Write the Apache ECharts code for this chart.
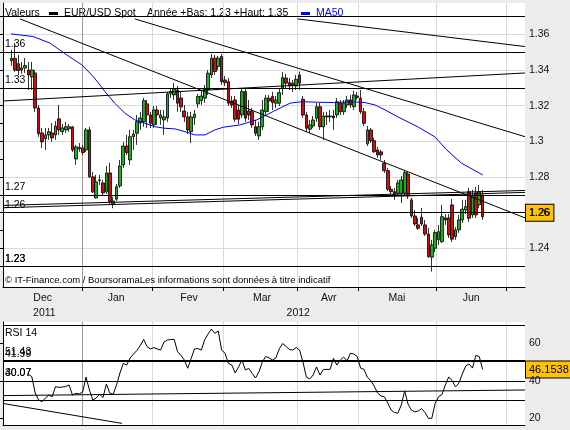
<!DOCTYPE html>
<html>
<head>
<meta charset="utf-8">
<title>EUR/USD Spot</title>
<script src="https://cdn.jsdelivr.net/npm/echarts@6/dist/echarts.min.js"></script>
<style>
  html, body { margin: 0; padding: 0; background: #ececec; }
  #chart { width: 570px; height: 430px; }
</style>
</head>
<body>
<div id="chart"></div>
<script>
// emplacements de l'axe X : jours de bourse + marge vide à droite
const slotCount = 154
const firstSlot = 2

// bougies [ouverture, clôture, bas, haut]
const ohlc = [
  [1.3451, 1.3465, 1.3423, 1.3512], [1.3465, 1.3400, 1.3389, 1.3551], [1.3434, 1.3397, 1.3372, 1.3484],
  [1.3400, 1.3411, 1.3378, 1.3445], [1.3411, 1.3425, 1.3383, 1.3467], [1.3400, 1.3372, 1.3288, 1.3445],
  [1.3361, 1.3400, 1.3288, 1.3445], [1.3383, 1.3187, 1.3165, 1.3400], [1.3187, 1.3042, 1.3025, 1.3204],
  [1.3047, 1.2997, 1.2963, 1.3075], [1.3014, 1.3036, 1.2952, 1.3075], [1.3036, 1.3054, 1.3008, 1.3075],
  [1.3047, 1.3019, 1.2997, 1.3103], [1.3036, 1.3086, 1.3008, 1.3114], [1.3126, 1.3064, 1.3036, 1.3204],
  [1.3054, 1.3075, 1.3036, 1.3097], [1.3064, 1.3082, 1.3047, 1.3109], [1.3070, 1.3082, 1.3053, 1.3097],
  [1.3081, 1.2952, 1.2941, 1.3086], [1.2901, 1.2969, 1.2868, 1.2980], [1.2966, 1.2958, 1.2941, 1.2991],
  [1.2963, 1.2937, 1.2924, 1.2980], [1.2952, 1.3064, 1.2941, 1.3075], [1.3064, 1.2801, 1.2795, 1.3081],
  [1.2801, 1.2717, 1.2711, 1.2829], [1.2683, 1.2773, 1.2680, 1.2812], [1.2784, 1.2781, 1.2756, 1.2812],
  [1.2767, 1.2711, 1.2694, 1.2784], [1.2717, 1.2823, 1.2705, 1.2862], [1.2823, 1.2662, 1.2644, 1.2881],
  [1.2649, 1.2666, 1.2625, 1.2690], [1.2676, 1.2746, 1.2666, 1.2761], [1.2750, 1.2862, 1.2739, 1.2896],
  [1.2868, 1.2974, 1.2851, 1.2997], [1.2974, 1.2937, 1.2924, 1.3036], [1.2896, 1.3026, 1.2868, 1.3064],
  [1.3026, 1.3041, 1.2952, 1.3064], [1.3045, 1.3110, 1.2980, 1.3148], [1.3103, 1.3131, 1.3064, 1.3165],
  [1.3110, 1.3228, 1.3081, 1.3243], [1.3210, 1.3148, 1.3075, 1.3232], [1.3148, 1.3101, 1.3075, 1.3165],
  [1.3092, 1.3176, 1.3075, 1.3198], [1.3176, 1.3148, 1.3092, 1.3198], [1.3131, 1.3148, 1.3092, 1.3176],
  [1.3120, 1.3137, 1.3036, 1.3176], [1.3131, 1.3266, 1.3109, 1.3277], [1.3266, 1.3279, 1.3243, 1.3299],
  [1.3260, 1.3294, 1.3232, 1.3327], [1.3288, 1.3214, 1.3165, 1.3310], [1.3243, 1.3193, 1.3165, 1.3277],
  [1.3170, 1.3137, 1.3109, 1.3204], [1.3137, 1.3064, 1.3042, 1.3165], [1.3054, 1.3137, 1.2991, 1.3165],
  [1.3133, 1.3152, 1.3092, 1.3176], [1.3210, 1.3251, 1.3187, 1.3266], [1.3228, 1.3254, 1.3204, 1.3288],
  [1.3242, 1.3292, 1.3215, 1.3316], [1.3288, 1.3382, 1.3260, 1.3400], [1.3372, 1.3466, 1.3355, 1.3490],
  [1.3466, 1.3391, 1.3372, 1.3484], [1.3419, 1.3466, 1.3400, 1.3479], [1.3475, 1.3334, 1.3316, 1.3490],
  [1.3344, 1.3329, 1.3310, 1.3366], [1.3334, 1.3214, 1.3198, 1.3355], [1.3226, 1.3204, 1.3187, 1.3254],
  [1.3232, 1.3124, 1.3109, 1.3254], [1.3176, 1.3124, 1.3097, 1.3204], [1.3148, 1.3279, 1.3131, 1.3299],
  [1.3279, 1.3130, 1.3109, 1.3299], [1.3170, 1.3148, 1.3120, 1.3232], [1.3166, 1.3092, 1.3075, 1.3187],
  [1.3082, 1.3045, 1.3030, 1.3120], [1.3030, 1.3082, 1.3008, 1.3109], [1.3082, 1.3176, 1.3064, 1.3232],
  [1.3166, 1.3242, 1.3148, 1.3260], [1.3242, 1.3226, 1.3165, 1.3260], [1.3251, 1.3217, 1.3176, 1.3277],
  [1.3214, 1.3232, 1.3187, 1.3254], [1.3214, 1.3273, 1.3198, 1.3299], [1.3298, 1.3357, 1.3260, 1.3389],
  [1.3355, 1.3326, 1.3299, 1.3378], [1.3329, 1.3310, 1.3288, 1.3355], [1.3326, 1.3314, 1.3277, 1.3344],
  [1.3310, 1.3348, 1.3288, 1.3372], [1.3372, 1.3326, 1.3288, 1.3391], [1.3236, 1.3148, 1.3131, 1.3254],
  [1.3148, 1.3073, 1.3053, 1.3165], [1.3068, 1.3092, 1.3047, 1.3120], [1.3086, 1.3120, 1.3075, 1.3142],
  [1.3129, 1.3194, 1.3109, 1.3215], [1.3194, 1.3082, 1.3064, 1.3215], [1.3082, 1.3142, 1.3008, 1.3165],
  [1.3142, 1.3137, 1.3092, 1.3165], [1.3137, 1.3142, 1.3109, 1.3176], [1.3142, 1.3131, 1.3064, 1.3176],
  [1.3148, 1.3222, 1.3131, 1.3243], [1.3214, 1.3166, 1.3148, 1.3232], [1.3166, 1.3214, 1.3148, 1.3232],
  [1.3204, 1.3232, 1.3187, 1.3254], [1.3232, 1.3204, 1.3187, 1.3260], [1.3194, 1.3260, 1.3176, 1.3284],
  [1.3254, 1.3246, 1.3232, 1.3277], [1.3242, 1.3166, 1.3153, 1.3288], [1.3166, 1.3101, 1.3086, 1.3187],
  [1.2986, 1.3064, 1.2974, 1.3086], [1.3064, 1.3004, 1.2991, 1.3075], [1.3004, 1.2942, 1.2935, 1.3019],
  [1.2952, 1.2924, 1.2907, 1.2969], [1.2941, 1.2924, 1.2896, 1.2952], [1.2877, 1.2836, 1.2823, 1.2896],
  [1.2836, 1.2732, 1.2722, 1.2851], [1.2732, 1.2718, 1.2705, 1.2750], [1.2718, 1.2700, 1.2672, 1.2739],
  [1.2709, 1.2767, 1.2694, 1.2784], [1.2709, 1.2784, 1.2655, 1.2806], [1.2709, 1.2825, 1.2694, 1.2840],
  [1.2817, 1.2694, 1.2677, 1.2829], [1.2672, 1.2582, 1.2571, 1.2683], [1.2582, 1.2537, 1.2526, 1.2616],
  [1.2532, 1.2513, 1.2504, 1.2571], [1.2575, 1.2537, 1.2526, 1.2627], [1.2532, 1.2481, 1.2470, 1.2560],
  [1.2481, 1.2354, 1.2347, 1.2515], [1.2351, 1.2420, 1.2270, 1.2448], [1.2401, 1.2489, 1.2380, 1.2504],
  [1.2448, 1.2494, 1.2420, 1.2532], [1.2438, 1.2578, 1.2431, 1.2644], [1.2571, 1.2560, 1.2532, 1.2593],
  [1.2571, 1.2476, 1.2459, 1.2593], [1.2644, 1.2452, 1.2436, 1.2677], [1.2466, 1.2504, 1.2448, 1.2520],
  [1.2504, 1.2560, 1.2487, 1.2588], [1.2560, 1.2620, 1.2543, 1.2672], [1.2616, 1.2634, 1.2593, 1.2672],
  [1.2718, 1.2569, 1.2549, 1.2739], [1.2588, 1.2690, 1.2571, 1.2728], [1.2711, 1.2588, 1.2571, 1.2745],
  [1.2644, 1.2717, 1.2627, 1.2756], [1.2700, 1.2578, 1.2560, 1.2728]
]

// RSI 14, une valeur par bougie
const rsi = ['-', '-', '-', '-', '-',
  43.6, 42.3, 33.6, 29.9, 29.0, 30.8, 32.5, 31.6, 37.0, 36.6,
  36.8, 37.0, 37.9, 32.5, 33.4, 33.1, 34.1, 42.1, 35.2, 29.9,
  30.9, 32.9, 31.2, 38.4, 33.6, 32.9, 37.9, 44.3, 49.4, 48.5,
  52.3, 54.4, 56.3, 58.9, 62.2, 58.3, 57.1, 57.8, 57.1, 56.5,
  60.8, 61.9, 62.1, 62.2, 55.6, 53.6, 51.2, 46.8, 52.0, 57.1,
  57.3, 56.5, 61.9, 65.1, 67.7, 65.4, 66.7, 56.5, 54.8, 49.4,
  48.5, 44.3, 47.5, 51.2, 45.9, 46.7, 44.1, 41.6, 44.8, 50.1,
  53.1, 52.3, 51.2, 52.3, 57.1, 60.0, 58.4, 56.8, 56.5, 57.9,
  56.5, 50.1, 42.1, 41.1, 43.2, 47.5, 43.2, 46.1, 46.2, 46.2,
  52.1, 48.5, 51.2, 52.8, 50.8, 54.8, 54.4, 53.1, 46.9, 46.2,
  42.0, 40.3, 37.3, 33.6, 32.0, 31.6, 28.3, 24.5, 23.2, 22.8,
  27.2, 34.7, 27.7, 24.5, 23.5, 24.0, 25.3, 23.2, 20.1, 20.1,
  28.1, 31.6, 32.8, 37.9, 42.1, 40.3, 36.8, 38.9, 43.7, 48.0,
  49.1, 46.9, 53.6, 53.1, 46.1538
]

// MA50 [position, cours]
const ma50 = [
  [2.4, 1.3602], [5.0, 1.3596], [8.9, 1.3587], [13.9, 1.3550], [18.8, 1.3484], [23.3, 1.3428],
  [26.6, 1.3363], [28.6, 1.3316], [30.1, 1.3278], [33.0, 1.3213], [36.0, 1.3157], [38.9, 1.3120],
  [41.9, 1.3101], [44.8, 1.3082], [47.8, 1.3073], [50.7, 1.3070], [53.7, 1.3054], [56.6, 1.3036],
  [59.6, 1.3036], [62.5, 1.3064], [65.0, 1.3079], [69.9, 1.3092], [74.8, 1.3120], [79.7, 1.3167],
  [84.7, 1.3214], [88.1, 1.3222], [93.0, 1.3219], [97.9, 1.3217], [102.9, 1.3222], [106.8, 1.3217],
  [109.7, 1.3204], [112.7, 1.3176], [116.5, 1.3137], [122.4, 1.3081], [127.4, 1.3025], [130.9, 1.2952],
  [135.3, 1.2877], [141.5, 1.2812]
]

// droites tracées [x0, y0, x1, y1]
const trendLines = [
  [5.0, 1.3686, 154, 1.2571],
  [38.9, 1.3686, 154, 1.3026],
  [86.9, 1.3686, 154, 1.3531],
  [0, 1.3226, 154, 1.3383],
  [0, 1.2641, 154, 1.2725],
  [0, 1.2628, 154, 1.2714]
]
const levelValues = [1.3686, 1.3549, 1.3292, 1.2690, 1.2612, 1.2323, 1.2304]
const levelLabels = ['', '1.36', '1.33', '1.27', '1.26', '1.23', '1.23']

const rsiLines = [
  [0, 32.2, 154, 35.2],
  [0, 28.0, 35.1, 17.4]
]
const rsiLevelValues = [69.9, 51.2, 50.3, 40.0, 40.0, 29.9]
const rsiLevelLabels = ['', '51.43', '41.99', '40.07', '30.07', '']

// axes
const priceMin = 1.2184
const priceMax = 1.3775
const rsiMin = 16.53
const rsiMax = 71.47
const priceTicks = [1.23, 1.24, 1.25, 1.26, 1.27, 1.28, 1.29, 1.30, 1.31, 1.32, 1.33, 1.34, 1.35, 1.36, 1.37]
const priceLabels = [1.24, 1.26, 1.28, 1.30, 1.32, 1.34, 1.36]
const rsiLabels = [20, 40, 60]
const monthNames = ['Dec', 'Jan', 'Fev', 'Mar', 'Avr', 'Mai', 'Jun']
const monthLabelSlots = [11.7, 33.4, 54.9, 76.4, 96.1, 116.2, 138.1]
const monthBoundaries = [23.3, 44, 64.9, 86.9, 104.7, 127.7, 148.6]
const yearNames = ['2011', '2012']
const yearLabelSlots = [12.2, 87.1]

const fontFamily = 'Liberation Sans'

let chart = echarts.init(document.getElementById('chart'))

let slots = []
for (let i = 0; i < slotCount; i++) slots.push(String(i))

let candleRows = ohlc.map((d, i) => [firstSlot + i].concat(d))
let rsiRows = rsi.map((v, i) => [firstSlot + i, v]).filter(r => r[1] !== '-')
let lastClose = ohlc[ohlc.length - 1][1]
let lastRsi = rsi[rsi.length - 1]

// la première limite de mois est le passage d'année : trait plus foncé
let monthLineColors = monthBoundaries.map((v, i) => i === 0 ? '#9a9a9a' : '#d9d9d9')

function pick(list, names, v) {
  let i = list.findIndex(s => Math.abs(s - v) < 1e-6)
  return i < 0 ? '' : names[i]
}

function levels(values, labels) {
  return values.map((v, i) => ({
    yAxis: v,
    label: { show: labels[i] !== '', formatter: labels[i] }
  }))
}

function valueBox(text, bg) {
  return {
    show: true,
    position: 'end',
    distance: 1,
    formatter: text,
    color: '#000',
    fontSize: 11,
    fontFamily: fontFamily,
    backgroundColor: bg,
    borderColor: '#000',
    borderWidth: 1,
    padding: [3, 3, 2, 3]
  }
}

function segment(l, xIdx, yIdx) {
  return {
    type: 'line', xAxisIndex: xIdx, yAxisIndex: yIdx, z: 5,
    symbol: 'none', silent: true, animation: false,
    data: [[l[0], l[1]], [l[2], l[3]]],
    lineStyle: { color: '#000', width: 1 }
  }
}

let series = []

// bougies
series.push({
  type: 'candlestick', xAxisIndex: 0, yAxisIndex: 0, z: 3,
  data: candleRows,
  encode: { x: 0, y: [1, 2, 3, 4] },
  barWidth: 3.2,
  itemStyle: {
    color: '#19b019', color0: '#cc1010',
    borderColor: '#000', borderColor0: '#000', borderWidth: 0.8
  }
})

// MA50
series.push({
  type: 'line', xAxisIndex: 2, yAxisIndex: 0, z: 4,
  symbol: 'none', silent: true, animation: false,
  data: ma50,
  lineStyle: { color: '#0000ff', width: 1 }
})

// niveaux horizontaux + dernier cours
series.push({
  type: 'line', xAxisIndex: 2, yAxisIndex: 0, data: [], z: 5,
  markLine: {
    symbol: 'none', silent: true, animation: false,
    lineStyle: { color: '#000', width: 1, type: 'solid' },
    label: { position: 'insideStartTop', distance: 2, color: '#000', fontSize: 10.5, fontFamily: fontFamily },
    data: levels(levelValues, levelLabels).concat([{
      yAxis: lastClose,
      lineStyle: { color: 'rgba(0,0,0,0)' },
      label: valueBox(lastClose.toFixed(2), '#ffc20a')
    }])
  }
})

// RSI
series.push({
  type: 'line', xAxisIndex: 3, yAxisIndex: 1, z: 4,
  symbol: 'none', silent: true, animation: false,
  data: rsiRows,
  lineStyle: { color: '#000', width: 1 }
})
series.push({
  type: 'line', xAxisIndex: 4, yAxisIndex: 1, data: [], z: 5,
  markLine: {
    symbol: 'none', silent: true, animation: false,
    lineStyle: { color: '#000', width: 1, type: 'solid' },
    label: { position: 'insideStartTop', distance: 2, color: '#000', fontSize: 10.5, fontFamily: fontFamily },
    data: levels(rsiLevelValues, rsiLevelLabels).concat([{
      yAxis: lastRsi,
      lineStyle: { color: 'rgba(0,0,0,0)' },
      label: valueBox(String(lastRsi), '#ffc20a')
    }])
  }
})

trendLines.forEach(l => series.push(segment(l, 2, 0)))
rsiLines.forEach(l => series.push(segment(l, 4, 1)))

let axisFont = { color: '#111', fontSize: 10.5, fontFamily: fontFamily }

let option = {
  animation: false,
  backgroundColor: '#ececec',
  textStyle: { fontFamily: fontFamily },
  grid: [
    { left: 3, top: 3, width: 522, height: 284, show: true, backgroundColor: '#fff', borderWidth: 0, outerBoundsMode: 'none' },
    { left: 3, top: 322, width: 522, height: 103, show: true, backgroundColor: '#fff', borderWidth: 0, outerBoundsMode: 'none' }
  ],
  xAxis: [
    { type: 'category', gridIndex: 0, data: slots, show: false, boundaryGap: true },
    {
      type: 'value', gridIndex: 0, min: 0, max: slotCount, position: 'bottom', offset: 15,
      axisLine: { show: false }, axisTick: { show: false }, splitLine: { show: false },
      axisLabel: Object.assign({
        customValues: yearLabelSlots, margin: 6,
        formatter: v => pick(yearLabelSlots, yearNames, v)
      }, axisFont)
    },
    {
      type: 'value', gridIndex: 0, min: 0, max: slotCount, position: 'bottom', z: 1,
      axisLine: { show: true, lineStyle: { color: '#000', width: 1 } },
      axisTick: { show: true, customValues: monthBoundaries, length: 4, lineStyle: { color: '#000' } },
      splitLine: { show: true, lineStyle: { color: monthLineColors, width: 1, type: 'solid' } },
      axisLabel: Object.assign({
        customValues: monthLabelSlots, margin: 6,
        formatter: v => pick(monthLabelSlots, monthNames, v)
      }, axisFont)
    },
    { type: 'category', gridIndex: 1, data: slots, show: false, boundaryGap: true },
    {
      type: 'value', gridIndex: 1, min: 0, max: slotCount, position: 'bottom', z: 1,
      axisLine: { show: true, lineStyle: { color: '#000', width: 1 } },
      axisTick: { show: false, customValues: monthBoundaries },
      axisLabel: { show: false },
      splitLine: { show: true, lineStyle: { color: monthLineColors, width: 1, type: 'solid' } }
    }
  ],
  yAxis: [
    {
      type: 'value', gridIndex: 0, position: 'right', min: priceMin, max: priceMax, scale: true, z: 7,
      axisLine: { show: true, lineStyle: { color: '#000', width: 1 } },
      axisTick: { show: true, inside: true, length: 4, customValues: priceTicks, lineStyle: { color: '#000' } },
      splitLine: { show: false },
      axisLabel: Object.assign({ customValues: priceLabels, margin: 4 }, axisFont)
    },
    {
      type: 'value', gridIndex: 1, position: 'right', min: rsiMin, max: rsiMax, scale: true, z: 7,
      axisLine: { show: true, lineStyle: { color: '#000', width: 1 } },
      axisTick: { show: true, inside: true, length: 4, customValues: rsiLabels, lineStyle: { color: '#000' } },
      splitLine: { show: false },
      axisLabel: Object.assign({ customValues: rsiLabels, margin: 4 }, axisFont)
    },
    {
      // axe masqué : sert seulement au quadrillage horizontal du cours
      type: 'value', gridIndex: 0, position: 'left', min: priceMin, max: priceMax, scale: true, z: 1,
      axisLine: { show: false },
      axisTick: { show: false, customValues: priceLabels },
      axisLabel: { show: false },
      splitLine: { show: true, lineStyle: { color: '#d9d9d9', width: 1, type: 'solid' } }
    }
  ],
  graphic: [
    { type: 'text', x: 5, y: 13.5, style: { text: 'Valeurs', fill: '#000', font: '10.5px "Liberation Sans"', verticalAlign: 'middle' } },
    { type: 'rect', shape: { x: 49, y: 12, width: 9, height: 3 }, style: { fill: '#000' } },
    { type: 'text', x: 64, y: 13.5, style: { text: 'EUR/USD Spot', fill: '#000', font: '10.5px "Liberation Sans"', verticalAlign: 'middle' } },
    { type: 'text', x: 147, y: 13.5, style: { text: 'Année +Bas: 1.23 +Haut: 1.35', fill: '#000', font: '10.5px "Liberation Sans"', verticalAlign: 'middle' } },
    { type: 'rect', shape: { x: 301, y: 12, width: 9, height: 3 }, style: { fill: '#0000ff' } },
    { type: 'text', x: 316, y: 13.5, style: { text: 'MA50', fill: '#0000ff', font: '10.5px "Liberation Sans"', verticalAlign: 'middle' } },
    { type: 'text', x: 5, y: 280.5, z: 10, style: { text: '© IT-Finance.com / BoursoramaLes informations sont données à titre indicatif', fill: '#000', font: '9.5px "Liberation Sans"', verticalAlign: 'middle' } },
    { type: 'text', x: 5, y: 333, style: { text: 'RSI 14', fill: '#000', font: '10.5px "Liberation Sans"', verticalAlign: 'middle' } }
  ],
  series: series
}

chart.setOption(option)
</script>
</body>
</html>
